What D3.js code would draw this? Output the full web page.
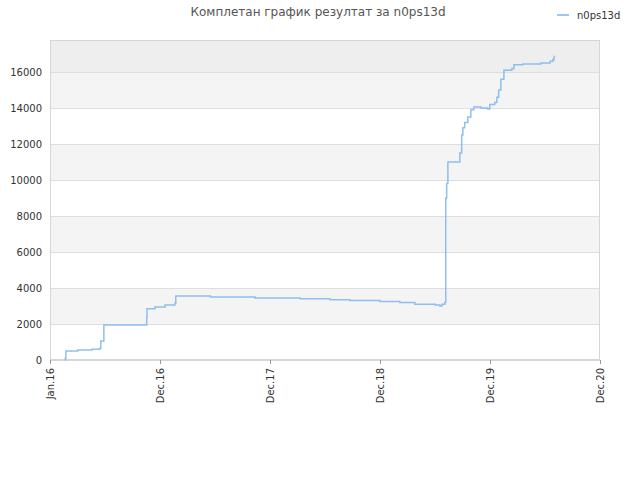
<!DOCTYPE html>
<html><head><meta charset="utf-8">
<script src="https://cdn.jsdelivr.net/npm/d3@7"></script>
<style>body{margin:0;background:#fff}text{font-family:"DejaVu Sans",sans-serif}</style>
</head><body><svg id="c" width="640" height="480"></svg>
<script>
// series: date, score
const dates = ['2016-02-19','2016-02-20','2016-02-22','2016-04-01','2016-05-17','2016-06-12','2016-06-15','2016-06-25',
  '2016-11-10','2016-11-12','2016-11-13','2016-12-09','2017-01-11','2017-02-12','2017-02-15','2017-06-08','2017-11-01',
  '2018-03-28','2018-07-04','2018-09-07','2018-12-14','2019-02-17','2019-04-07','2019-06-12','2019-06-28','2019-07-05',
  '2019-07-14','2019-07-17','2019-07-20','2019-07-24','2019-08-29','2019-09-01','2019-09-07','2019-09-11','2019-09-17',
  '2019-09-27','2019-10-07','2019-10-17','2019-11-09','2019-12-01','2019-12-08','2019-12-24','2019-12-31','2020-01-06',
  '2020-01-13','2020-01-23','2020-02-18','2020-02-25','2020-03-25','2020-05-23','2020-06-22','2020-07-01','2020-07-05'];
const values = [0,100,500,550,600,650,1050,1950,
  1950,2400,2850,2950,3050,3150,3550,3500,3450,
  3400,3350,3300,3250,3200,3100,3050,3000,3100,
  3200,9000,9800,11000,11000,11500,12500,12900,13200,
  13500,13900,14050,14000,13950,14200,14300,14600,15000,
  15600,16100,16200,16400,16450,16500,16600,16700,16900];
const tickLabels = ['Jan.16','Dec.16','Dec.17','Dec.18','Dec.19','Dec.20'];
const yTicks = [0,2000,4000,6000,8000,10000,12000,14000,16000];
const seriesName = 'n0ps13d';
const title = 'Комплетан график резултат за n0ps13d';

const svg = d3.select('#c');
const m = {l: 50, r: 600, t: 40, b: 360};
const parse = d3.utcParse('%Y-%m-%d');
const data = dates.map((d, i) => ({d: parse(d), v: values[i]}));
const d0 = parse('2016-01-01'), d1 = parse('2020-12-02');
const x = d3.scaleUtc().domain([d0, d1]).range([m.l, m.r]);
const y = d3.scaleLinear().domain([0, 17778]).range([m.b, m.t]);

// bands
const bands = yTicks.map((v, i) => [v, i + 1 < yTicks.length ? yTicks[i + 1] : 17778]);
svg.selectAll('rect.band').data(bands).join('rect')
  .attr('x', m.l).attr('width', m.r - m.l)
  .attr('y', d => y(d[1])).attr('height', d => y(d[0]) - y(d[1]))
  .attr('fill', (d, i) => i === 8 ? '#eeeeee' : (i % 2 ? '#f4f4f4' : '#ffffff'));
svg.selectAll('line.grid').data(yTicks).join('line')
  .attr('x1', m.l).attr('x2', m.r).attr('y1', d => y(d) + 0.5).attr('y2', d => y(d) + 0.5)
  .attr('stroke', '#dedede');
svg.append('rect').attr('x', m.l + 0.5).attr('y', m.t + 0.5)
  .attr('width', m.r - m.l - 1).attr('height', m.b - m.t - 1)
  .attr('fill', 'none').attr('stroke', '#d6d6d6');

// y labels
svg.selectAll('text.yl').data(yTicks).join('text')
  .attr('x', m.l - 8).attr('y', d => y(d) + 4).attr('text-anchor', 'end')
  .attr('font-size', 10).attr('fill', '#333').text(d => d);

// x ticks
const step = (d1 - d0) / 5;
const xTicks = tickLabels.map((t, i) => new Date(+d0 + i * step));
const xa = d3.axisBottom(x).tickValues(xTicks).tickFormat((d, i) => tickLabels[i]).tickSize(4);
const gx = svg.append('g').attr('transform', `translate(0,${m.b})`).call(xa);
gx.select('.domain').attr('stroke', '#d6d6d6');
gx.selectAll('.tick line').attr('stroke', '#999');
gx.selectAll('.tick text').attr('font-size', 10).attr('fill', '#333')
  .attr('font-family', '"DejaVu Sans",sans-serif')
  .attr('transform', 'rotate(-90)').attr('text-anchor', 'end')
  .attr('x', -8).attr('y', 0).attr('dy', '0.35em');

// line
const line = d3.line().x(d => x(d.d)).y(d => y(d.v)).curve(d3.curveStepAfter);
svg.append('path').datum(data).attr('d', line)
  .attr('fill', 'none').attr('stroke', '#7cb5ec').attr('stroke-width', 1.5).attr('opacity', 0.85);

// title & legend
svg.append('text').attr('x', 318).attr('y', 16).attr('text-anchor', 'middle')
  .attr('font-size', 12).attr('fill', '#555').text(title);
svg.append('line').attr('x1', 557).attr('x2', 569).attr('y1', 15).attr('y2', 15)
  .attr('stroke', '#7cb5ec').attr('stroke-width', 1.5);
svg.append('text').attr('x', 577).attr('y', 19).attr('font-size', 10).attr('fill', '#333').text(seriesName);
</script></body></html>
